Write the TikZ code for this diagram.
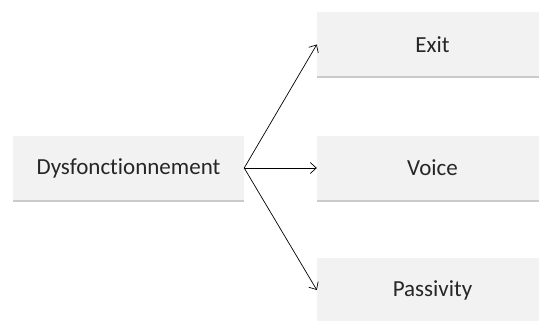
\documentclass[tikz,border=0pt]{standalone}
\usepackage{fontspec}
\setmainfont[Ligatures=NoCommon]{Carlito}
\usetikzlibrary{arrows.meta, shadows}
\definecolor{boxgray}{HTML}{F2F2F2}
\definecolor{textgray}{HTML}{262626}
\tikzstyle{choice} = [rectangle, minimum width=231pt, minimum height=64pt, inner sep=0, text centered, fill=boxgray, font=\fontsize{23}{26}\selectfont, text=textgray, drop shadow={shadow xshift=0pt, shadow yshift=-2pt, fill=black!35, opacity=0.6}]
\tikzstyle{arrow} = [line width=0.7pt, -{Straight Barb[length=6pt, width=11pt]}]

\begin{document}
\begin{tikzpicture}[x=1pt, y=-1pt]
\useasboundingbox (0,0) rectangle (539,321);
\clip (0,0) rectangle (539,321);

\node[choice] (dys) at (128.5,168) {Dysfonctionnement};
\node[choice] (exit) at (432.5,44.5) {Exit};
\node[choice] (voice) at (432.5,168) {Voice};
\node[choice] (pass) at (432.5,290) {Passivity};

\draw[arrow] (dys.east) -- (exit.west);
\draw[arrow] (dys.east) -- (voice.west);
\draw[arrow] (dys.east) -- (pass.west);
\end{tikzpicture}
\end{document}
